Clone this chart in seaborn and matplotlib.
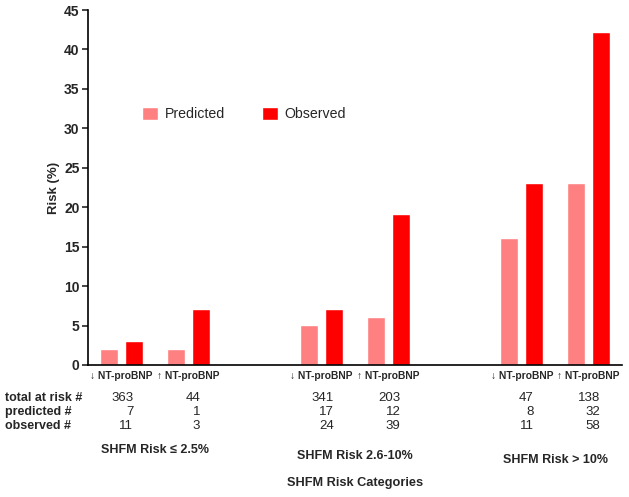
import numpy as np
import pandas as pd
import matplotlib
matplotlib.use("Agg")
import matplotlib.pyplot as plt
import matplotlib.transforms as mtransforms
import seaborn as sns

# data
positions = [0, 1, 3, 4, 6, 7]
bnp_labels = ["\u2193 NT-proBNP", "\u2191 NT-proBNP"] * 3
predicted = [2, 2, 5.1, 6.1, 16.1, 23.1]
observed = [3.1, 7.1, 7.1, 19.1, 23.1, 42.2]
total_at_risk = [363, 44, 341, 203, 47, 138]
predicted_n = [7, 1, 17, 12, 8, 32]
observed_n = [11, 3, 24, 39, 11, 58]
row_labels = ["total at risk #", "predicted #", "observed #"]
group_labels = ["SHFM Risk \u2264 2.5%", "SHFM Risk 2.6-10%", "SHFM Risk > 10%"]
group_centers = [0.5, 3.5, 6.5]
group_label_y = [450, 456, 460]

df = pd.DataFrame({
    "pos": positions * 2,
    "kind": ["Predicted"] * 6 + ["Observed"] * 6,
    "risk": predicted + observed,
})

sns.set_style("ticks")
plt.rcParams["font.family"] = ["Liberation Sans", "DejaVu Sans"]

W, H = 629, 497
fig = plt.figure(figsize=(W / 100, H / 100), dpi=100)
ax = fig.add_axes([88 / W, 1 - 365 / H, (622 - 88) / W, (365 - 10) / H])

sns.barplot(data=df, x="pos", y="risk", hue="kind", native_scale=True,
            hue_order=["Predicted", "Observed"],
            palette={"Predicted": "#ff8080", "Observed": "#ff0000"},
            saturation=1, width=0.746, gap=0.28, ax=ax, errorbar=None)

ax.set_xlim(-0.5, 7.5)
ax.set_ylim(0, 45)
ax.set_yticks(range(0, 46, 5))
ax.set_xticks(positions)
ax.set_xticklabels(bnp_labels, fontsize=7.4, fontweight="bold")
ax.tick_params(axis="x", length=0, pad=4)
ax.tick_params(axis="y", labelsize=10, length=4, width=1.2, direction="out",
               pad=2)
for t in ax.get_yticklabels():
    t.set_fontweight("bold")
ax.set_xlabel("")
ax.set_ylabel("Risk (%)", fontsize=9.5, fontweight="bold", labelpad=3)
sns.despine(ax=ax)
for s in ["left", "bottom"]:
    ax.spines[s].set_linewidth(1.2)
    ax.spines[s].set_color("black")

sns.move_legend(ax, "center left", bbox_to_anchor=(0.078, 0.706), ncol=2,
                frameon=False, title=None, fontsize=10.2,
                handlelength=1.1, handleheight=1.0, handletextpad=0.5,
                columnspacing=2.6)

# table under the axis
trans = mtransforms.blended_transform_factory(ax.transData, fig.transFigure)
rows = [total_at_risk, predicted_n, observed_n]
row_y = [398, 412, 426]
for label, vals, y in zip(row_labels, rows, row_y):
    fig.text(5 / W, 1 - y / H, label, fontsize=9, fontweight="bold",
             va="center", ha="left")
    for p, v in zip(positions, vals):
        ax.text(p + 0.18, 1 - y / H, str(v), transform=trans, fontsize=9.5,
                va="center", ha="right")

for c, lab, y in zip(group_centers, group_labels, group_label_y):
    ax.text(c, 1 - y / H, lab, transform=trans, fontsize=9, fontweight="bold",
            ha="center", va="center")

fig.text(355 / W, 1 - 483 / H, "SHFM Risk Categories", fontsize=9.2,
         fontweight="bold", ha="center", va="center")

fig.savefig("out.png", dpi=100)
